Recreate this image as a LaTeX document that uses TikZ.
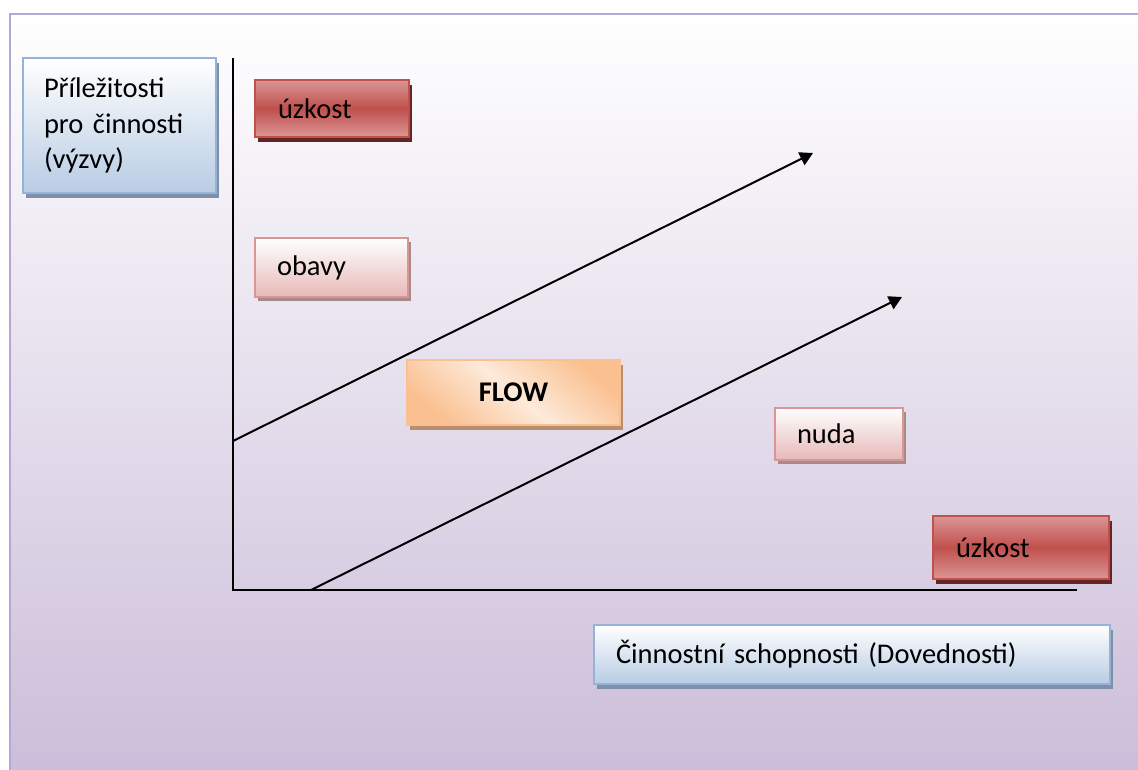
\documentclass[tikz,border=0pt]{standalone}
\usepackage{fontspec}
\setmainfont{Carlito}
\usetikzlibrary{arrows.meta,shadows}
\definecolor{framec}{HTML}{B5A6D3}
\definecolor{bgbot}{HTML}{CBBDD9}
\definecolor{blueb}{HTML}{95B3D7}
\definecolor{bluef}{HTML}{B8CCE4}
\definecolor{blues}{HTML}{7F8FAA}
\definecolor{redb}{HTML}{C0504D}
\definecolor{redl}{HTML}{DA9694}
\definecolor{redm}{HTML}{C0504D}
\definecolor{reds}{HTML}{632523}
\definecolor{pinkb}{HTML}{D99694}
\definecolor{pinkf}{HTML}{E6B9B8}
\definecolor{pinks}{HTML}{A88A8A}
\definecolor{orab}{HTML}{FAC090}
\definecolor{oraf}{HTML}{FAC090}
\definecolor{oram}{HTML}{FDEADA}
\definecolor{oras}{HTML}{B98E6E}
\tikzset{
  txt/.style={font=\fontsize{28.5}{35.5}\selectfont, text=black},
  lbox/.style={rectangle, txt, line width=2pt, inner ysep=0pt, align=left},
  bluebox/.style={lbox, draw=blueb, top color=white, bottom color=bluef,
    drop shadow={shadow xshift=3pt, shadow yshift=-5pt, opacity=1, fill=blues}},
  redbox/.style={lbox, draw=redb, top color=redl, bottom color=redl, middle color=redm,
    drop shadow={shadow xshift=3pt, shadow yshift=-5pt, opacity=1, fill=reds}},
  pinkbox/.style={lbox, draw=pinkb, top color=white, bottom color=pinkf,
    drop shadow={shadow xshift=3pt, shadow yshift=-4pt, opacity=1, fill=pinks}},
  orabox/.style={lbox, draw=orab, top color=oraf, bottom color=oraf, middle color=oram, shading angle=-40,
    drop shadow={shadow xshift=3pt, shadow yshift=-5pt, opacity=1, fill=oras}},
  axis/.style={line width=2.2pt, black},
  trend/.style={line width=2pt, black, -{Triangle[length=13pt,width=14pt]}}
}
\begin{document}
\begin{tikzpicture}[x=1pt,y=-1pt]
\useasboundingbox (0,0) rectangle (1138,769);
\fill[white] (0,0) rectangle (1138,769);
\shade[top color=white, bottom color=bgbot] (9.5,13.5) rectangle (1150,780);
\draw[framec, line width=2pt] (1150,13.5) -- (9.5,13.5) -- (9.5,780);
% boxes
\node[bluebox, text width=151pt, inner xsep=21pt, minimum height=135pt] (chance) at (119.5,125.5) {Příležitosti\\pro činnosti\\(výzvy)};
\node[redbox, text width=108pt, inner xsep=23pt, minimum height=57pt] (uz1) at (332,108.5) {úzkost};
\node[pinkbox, text width=109pt, inner xsep=22pt, minimum height=59pt] (obavy) at (331.5,267.5) {obavy};
\node[orabox, text width=213pt, inner xsep=0pt, align=center, minimum height=65pt, font=\fontsize{28.5}{35.5}\selectfont\bfseries] (flow) at (513.5,392.5) {FLOW};
\node[pinkbox, text width=84pt, inner xsep=22pt, minimum height=52pt] (nuda) at (839,433.5) {nuda};
\node[redbox, text width=130pt, inner xsep=23pt, minimum height=63pt] (uz2) at (1021,547.5) {úzkost};
\node[bluebox, text width=472pt, inner xsep=22pt, minimum height=59pt] (skill) at (852,654.5) {Činnostní schopnosti (Dovednosti)};
% axes
\coordinate (O) at (233,590);
\coordinate (Ytop) at (233,58);
\coordinate (Xend) at (1077,590);
\draw[axis] (Ytop) -- (O) -- (Xend);
\coordinate (a1s) at (233,441);
\coordinate (a1e) at (813,153);
\coordinate (a2s) at (311,590);
\coordinate (a2e) at (902,297);
\draw[trend] (a1s) -- (a1e);
\draw[trend] (a2s) -- (a2e);
\end{tikzpicture}
\end{document}
